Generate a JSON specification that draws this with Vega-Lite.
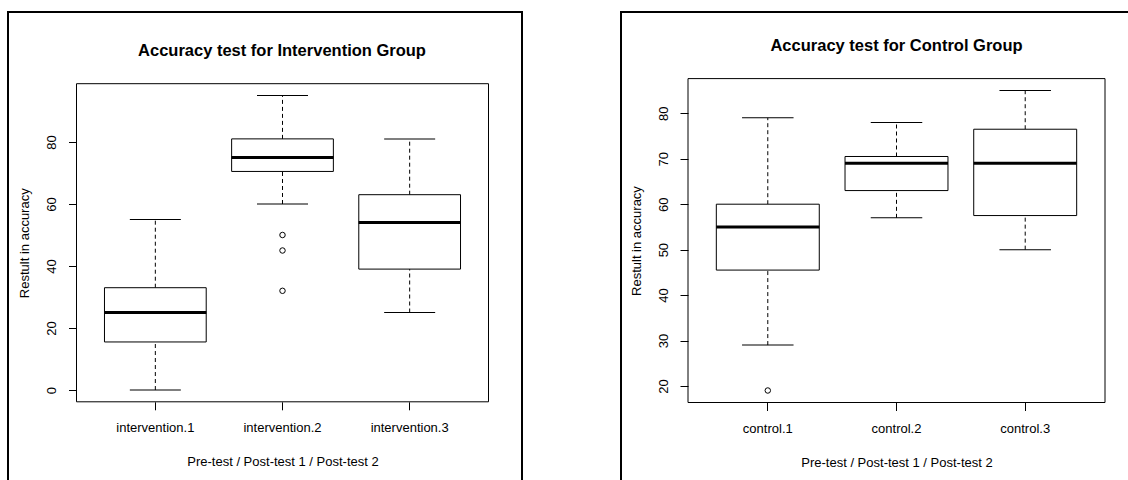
{
  "$schema": "https://vega.github.io/schema/vega-lite/v6.json",
  "padding": {"left": 7, "top": 11, "right": 0, "bottom": 0},
  "background": "white",
  "spacing": 97,
  "datasets": {
    "intervention": [
      {"group": "intervention.1", "min": 0, "q1": 15.5, "median": 25, "q3": 33, "max": 55},
      {"group": "intervention.2", "min": 60, "q1": 70.5, "median": 75, "q3": 81, "max": 95},
      {"group": "intervention.3", "min": 25, "q1": 39, "median": 54, "q3": 63, "max": 81}
    ],
    "intervention_out": [
      {"group": "intervention.2", "value": 50},
      {"group": "intervention.2", "value": 45},
      {"group": "intervention.2", "value": 32}
    ],
    "control": [
      {"group": "control.1", "min": 29, "q1": 45.5, "median": 55, "q3": 60, "max": 79},
      {"group": "control.2", "min": 57, "q1": 63, "median": 69, "q3": 70.5, "max": 78},
      {"group": "control.3", "min": 50, "q1": 57.5, "median": 69, "q3": 76.5, "max": 85}
    ],
    "control_out": [
      {"group": "control.1", "value": 19}
    ]
  },
  "config": {
    "view": {"stroke": "black", "strokeWidth": 2},
    "font": "Liberation Sans",
    "axis": {
      "grid": false, "domain": false,
      "labelFont": "Liberation Sans", "labelFontSize": 13, "labelColor": "black",
      "titleFont": "Liberation Sans", "titleFontSize": 13, "titleFontWeight": "normal", "titleColor": "black",
      "tickColor": "black", "tickSize": 8, "tickWidth": 1,
      "labelFlush": false, "labelOverlap": false
    },
    "title": {"font": "Liberation Sans", "fontSize": 16.5, "fontWeight": "bold", "color": "black", "anchor": "middle", "frame": "group", "baseline": "alphabetic"}
  },
  "hconcat": [
    {
      "title": {"text": "Accuracy test for Intervention Group", "offset": -47.5, "dx": 17},
      "width": 514,
      "height": 480,
      "layer": [
        {
          "data": {"values": [{}]},
          "mark": {"type": "rect", "filled": false, "color": "black", "strokeWidth": 1},
          "encoding": {
            "x": {"datum": 0, "type": "quantitative", "scale": {"domain": [0, 1], "range": [68.5, 480.5]}, "axis": null},
            "x2": {"datum": 1},
            "y": {"datum": 0, "type": "quantitative", "scale": {"domain": [0, 1], "range": [389.8, 71.7]}, "axis": null},
            "y2": {"datum": 1}
          }
        },
        {
          "data": {"name": "intervention"},
          "encoding": {
            "x": {
              "field": "group", "type": "nominal",
              "scale": {"type": "band", "domain": ["intervention.1", "intervention.2", "intervention.3"], "range": [68.5, 480.5], "paddingInner": 0, "paddingOuter": 0.12},
              "axis": {"title": "Pre-test / Post-test 1 / Post-test 2", "orient": "bottom", "offset": -90.2, "labelAngle": 0, "labelPadding": 12, "titlePadding": 31, "titleBaseline": "alphabetic"}
            }
          },
          "layer": [
            {
              "mark": {"type": "rule", "strokeDash": [4, 3], "color": "black", "strokeWidth": 1},
              "encoding": {
                "y": {
                  "field": "q3", "type": "quantitative",
                  "scale": {"domain": [-3.8, 98.8], "range": [389.8, 71.7], "nice": false, "zero": false},
                  "axis": {"title": "Restult in accuracy", "values": [0, 20, 40, 60, 80], "offset": -68.5, "labelAngle": 270, "labelAlign": "center", "labelBaseline": "bottom", "labelPadding": 10, "titlePadding": 17, "titleBaseline": "alphabetic"}
                },
                "y2": {"field": "max"}
              }
            },
            {
              "mark": {"type": "rule", "strokeDash": [4, 3], "color": "black", "strokeWidth": 1},
              "encoding": {"y": {"field": "min", "type": "quantitative"}, "y2": {"field": "q1"}}
            },
            {
              "mark": {"type": "tick", "size": 51, "thickness": 1, "color": "black", "opacity": 1},
              "encoding": {"y": {"field": "max", "type": "quantitative"}}
            },
            {
              "mark": {"type": "tick", "size": 51, "thickness": 1, "color": "black", "opacity": 1},
              "encoding": {"y": {"field": "min", "type": "quantitative"}}
            },
            {
              "mark": {"type": "bar", "fill": "white", "stroke": "black", "strokeWidth": 1, "opacity": 1, "width": {"band": 0.8}},
              "encoding": {"y": {"field": "q1", "type": "quantitative"}, "y2": {"field": "q3"}}
            },
            {
              "mark": {"type": "tick", "size": 102, "thickness": 3, "color": "black", "opacity": 1},
              "encoding": {"y": {"field": "median", "type": "quantitative"}}
            },
            {
              "data": {"name": "intervention_out"},
              "mark": {"type": "point", "shape": "circle", "filled": false, "size": 30, "color": "black", "strokeWidth": 1, "opacity": 1},
              "encoding": {"y": {"field": "value", "type": "quantitative"}}
            }
          ]
        }
      ],
      "resolve": {"scale": {"x": "independent", "y": "independent"}}
    },
    {
      "title": {"text": "Accuracy test for Control Group", "offset": -42.5, "dx": 18},
      "width": 515,
      "height": 480,
      "layer": [
        {
          "data": {"values": [{}]},
          "mark": {"type": "rect", "filled": false, "color": "black", "strokeWidth": 1},
          "encoding": {
            "x": {"datum": 0, "type": "quantitative", "scale": {"domain": [0, 1], "range": [67, 484]}, "axis": null},
            "x2": {"datum": 1},
            "y": {"datum": 0, "type": "quantitative", "scale": {"domain": [0, 1], "range": [390.5, 66.6]}, "axis": null},
            "y2": {"datum": 1}
          }
        },
        {
          "data": {"name": "control"},
          "encoding": {
            "x": {
              "field": "group", "type": "nominal",
              "scale": {"type": "band", "domain": ["control.1", "control.2", "control.3"], "range": [67, 484], "paddingInner": 0, "paddingOuter": 0.12},
              "axis": {"title": "Pre-test / Post-test 1 / Post-test 2", "orient": "bottom", "offset": -89.5, "labelAngle": 0, "labelPadding": 12, "titlePadding": 31, "titleBaseline": "alphabetic"}
            }
          },
          "layer": [
            {
              "mark": {"type": "rule", "strokeDash": [4, 3], "color": "black", "strokeWidth": 1},
              "encoding": {
                "y": {
                  "field": "q3", "type": "quantitative",
                  "scale": {"domain": [16.36, 87.64], "range": [390.5, 66.6], "nice": false, "zero": false},
                  "axis": {"title": "Restult in accuracy", "values": [20, 30, 40, 50, 60, 70, 80], "offset": -67, "labelAngle": 270, "labelAlign": "center", "labelBaseline": "bottom", "labelPadding": 10, "titlePadding": 17, "titleBaseline": "alphabetic"}
                },
                "y2": {"field": "max"}
              }
            },
            {
              "mark": {"type": "rule", "strokeDash": [4, 3], "color": "black", "strokeWidth": 1},
              "encoding": {"y": {"field": "min", "type": "quantitative"}, "y2": {"field": "q1"}}
            },
            {
              "mark": {"type": "tick", "size": 51.5, "thickness": 1, "color": "black", "opacity": 1},
              "encoding": {"y": {"field": "max", "type": "quantitative"}}
            },
            {
              "mark": {"type": "tick", "size": 51.5, "thickness": 1, "color": "black", "opacity": 1},
              "encoding": {"y": {"field": "min", "type": "quantitative"}}
            },
            {
              "mark": {"type": "bar", "fill": "white", "stroke": "black", "strokeWidth": 1, "opacity": 1, "width": {"band": 0.8}},
              "encoding": {"y": {"field": "q1", "type": "quantitative"}, "y2": {"field": "q3"}}
            },
            {
              "mark": {"type": "tick", "size": 103, "thickness": 3, "color": "black", "opacity": 1},
              "encoding": {"y": {"field": "median", "type": "quantitative"}}
            },
            {
              "data": {"name": "control_out"},
              "mark": {"type": "point", "shape": "circle", "filled": false, "size": 30, "color": "black", "strokeWidth": 1, "opacity": 1},
              "encoding": {"y": {"field": "value", "type": "quantitative"}}
            }
          ]
        }
      ],
      "resolve": {"scale": {"x": "independent", "y": "independent"}}
    }
  ]
}
